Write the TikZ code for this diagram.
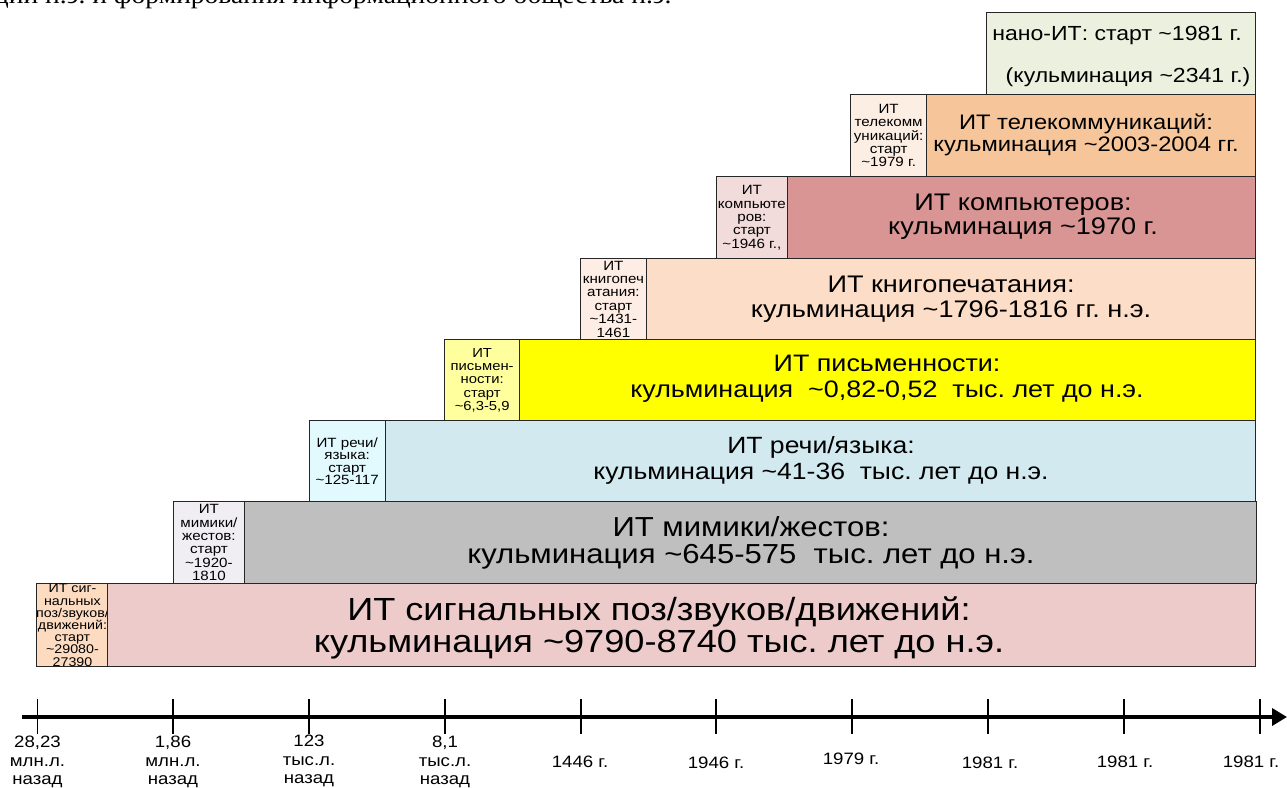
\documentclass[tikz,border=0pt]{standalone}
\usepackage{fontspec}
\setmainfont[FakeStretch=1.13]{Liberation Sans}
\newfontfamily\serifdoc[FakeStretch=1.1]{Liberation Serif}
\usetikzlibrary{arrows.meta}
\definecolor{cNanoB}{HTML}{EBF1DE}
\definecolor{cTelS}{HTML}{FDEEE4}
\definecolor{cTelB}{HTML}{F6C59A}
\definecolor{cCompS}{HTML}{F2DBDB}
\definecolor{cCompB}{HTML}{D99594}
\definecolor{cPrS}{HTML}{FDEDE4}
\definecolor{cPrB}{HTML}{FCDEC8}
\definecolor{cWrS}{HTML}{FFFF9E}
\definecolor{cWrB}{HTML}{FFFF00}
\definecolor{cSpS}{HTML}{E2FAFE}
\definecolor{cSpB}{HTML}{D2E9EF}
\definecolor{cMiS}{HTML}{F0EEF3}
\definecolor{cMiB}{HTML}{BFBFBF}
\definecolor{cSiS}{HTML}{FCDBC0}
\definecolor{cSiB}{HTML}{EECBCB}
\definecolor{cEdge}{HTML}{262626}
\tikzset{
  box/.style={draw=cEdge, line width=1.3pt, inner sep=0pt, anchor=north west, align=center},
  smallbox/.style={box, font=\fontsize{13.4}{13.4}\selectfont},
  bigtext/.style={align=center, inner sep=0pt},
  axislabel/.style={align=center, anchor=north, inner sep=0pt, font=\fontsize{16.5}{18.5}\selectfont},
  tickline/.style={line width=1.1pt, black},
}
\newcommand{\tl}{\textasciitilde}
\frenchspacing
\begin{document}
\begin{tikzpicture}[x=1pt,y=-1pt]
\useasboundingbox (0,0) rectangle (1287,787);
% partial document text at the top
\node[anchor=base west, inner sep=0pt, font=\serifdoc\fontsize{25}{25}\selectfont] (doctext) at (-6,4) {ции н.э. и формирования информационного общества н.э.};

% row 1: signals
\node[smallbox, fill=cSiS, minimum width=71.5pt, minimum height=83pt, font=\fontsize{12.6}{12.2}\selectfont] (s1) at (35.5,583) {ИТ сиг-\\нальных\\поз/звуков/\\движений:\\старт\\\tl29080-\\27390};
\node[box, fill=cSiB, minimum width=1148pt, minimum height=83pt] (b1) at (107,583) {};
\node[bigtext, font=\fontsize{32}{32}\selectfont] (t1) at (659,628) {ИТ сигнальных поз/звуков/движений:\\кульминация \tl9790-8740 тыс. лет до н.э.};

% row 2: mimics
\node[smallbox, fill=cMiS, minimum width=70.5pt, minimum height=82pt] (s2) at (173,501) {ИТ\\мимики/\\жестов:\\старт\\\tl1920-\\1810};
\node[box, fill=cMiB, minimum width=1012pt, minimum height=82pt] (b2) at (243.5,501) {};
\node[bigtext, font=\fontsize{27.5}{26.6}\selectfont] (t2) at (751,543) {ИТ мимики/жестов:\\кульминация \tl645-575\ \ тыс. лет до н.э.};

% row 3: speech
\node[smallbox, fill=cSpS, minimum width=76pt, minimum height=81pt, font=\fontsize{13.4}{12.3}\selectfont] (s3) at (308.5,420) {ИТ речи/\\языка:\\старт\\\tl125-117};
\node[box, fill=cSpB, minimum width=870.5pt, minimum height=81pt] (b3) at (384.5,420) {};
\node[bigtext, font=\fontsize{23.5}{26}\selectfont] (t3) at (821,460) {ИТ речи/языка:\\кульминация \tl41-36\ \ тыс. лет до н.э.};

% row 4: writing
\node[smallbox, fill=cWrS, minimum width=75pt, minimum height=81pt, font=\fontsize{13.1}{13.3}\selectfont] (s4) at (444,339) {ИТ\\письмен-\\ности:\\старт\\\tl6,3-5,9};
\node[box, fill=cWrB, minimum width=736pt, minimum height=81pt] (b4) at (519,339) {};
\node[bigtext, font=\fontsize{23.8}{26.5}\selectfont] (t4) at (887,379) {ИТ письменности:\\кульминация\ \ \tl0,82-0,52\ \ тыс. лет до н.э.};

% row 5: printing
\node[smallbox, fill=cPrS, minimum width=65.5pt, minimum height=81pt] (s5) at (580,258) {ИТ\\книгопеч\\атания:\\старт\\\tl1431-\\1461};
\node[box, fill=cPrB, minimum width=609.5pt, minimum height=81pt] (b5) at (645.5,258) {};
\node[bigtext, font=\fontsize{24}{25}\selectfont] (t5) at (951,299) {ИТ книгопечатания:\\кульминация \tl1796-1816 гг. н.э.};

% row 6: computers
\node[smallbox, fill=cCompS, minimum width=70.5pt, minimum height=82pt] (s6) at (716,176) {ИТ\\компьюте\\ров:\\старт\\\tl1946 г.,};
\node[box, fill=cCompB, minimum width=468.5pt, minimum height=82pt] (b6) at (786.5,176) {};
\node[bigtext, font=\fontsize{24}{24}\selectfont] (t6) at (1023,217) {ИТ компьютеров:\\кульминация \tl1970 г.};

% row 7: telecom
\node[smallbox, fill=cTelS, minimum width=76pt, minimum height=82pt, font=\fontsize{13.4}{13.2}\selectfont] (s7) at (850,94) {ИТ\\телекомм\\уникаций:\\старт\\\tl1979 г.};
\node[box, fill=cTelB, minimum width=329pt, minimum height=82pt] (b7) at (926,94) {};
\node[bigtext, font=\fontsize{21}{21.5}\selectfont] (t7) at (1086,135) {ИТ телекоммуникаций:\\кульминация \tl2003-2004 гг.};

% row 8: nano
\node[box, fill=cNanoB, minimum width=269.5pt, minimum height=82pt] (b8) at (985.5,12) {};
\node[font=\fontsize{20.4}{22}\selectfont, inner sep=0pt] (t8a) at (1117,35) {нано-ИТ: старт \tl1981 г.};
\node[font=\fontsize{20.4}{22}\selectfont, inner sep=0pt] (t8b) at (1128,77) {(кульминация \tl2341 г.)};

% axis
\coordinate (axs) at (22,717);
\coordinate (axe) at (1287,717);
\draw[line width=3.6pt, -{Triangle[length=15pt,width=17pt]}] (axs) -- (axe);
\foreach \i/\x in {1/37.5,2/173,3/309,4/445,5/581,6/716,7/852,8/988,9/1124,10/1260}{
  \coordinate (ta\i) at (\x,699);
  \coordinate (tb\i) at (\x,734);
  \draw[tickline] (ta\i) -- (tb\i);
}
\node[axislabel] (l1) at (37.5,736) {28,23\\млн.л.\\назад};
\node[axislabel] (l2) at (173,736) {1,86\\млн.л.\\назад};
\node[axislabel] (l3) at (309,735) {123\\тыс.л.\\назад};
\node[axislabel] (l4) at (445,736) {8,1\\тыс.л.\\назад};
\node[axislabel, anchor=center] (l5) at (580,762) {1446 г.};
\node[axislabel, anchor=center] (l6) at (716,763) {1946 г.};
\node[axislabel, anchor=center] (l7) at (851,759) {1979 г.};
\node[axislabel, anchor=center] (l8) at (990,763) {1981 г.};
\node[axislabel, anchor=center] (l9) at (1125,762) {1981 г.};
\node[axislabel, anchor=center] (l10) at (1251,762) {1981 г.};
\end{tikzpicture}
\end{document}
